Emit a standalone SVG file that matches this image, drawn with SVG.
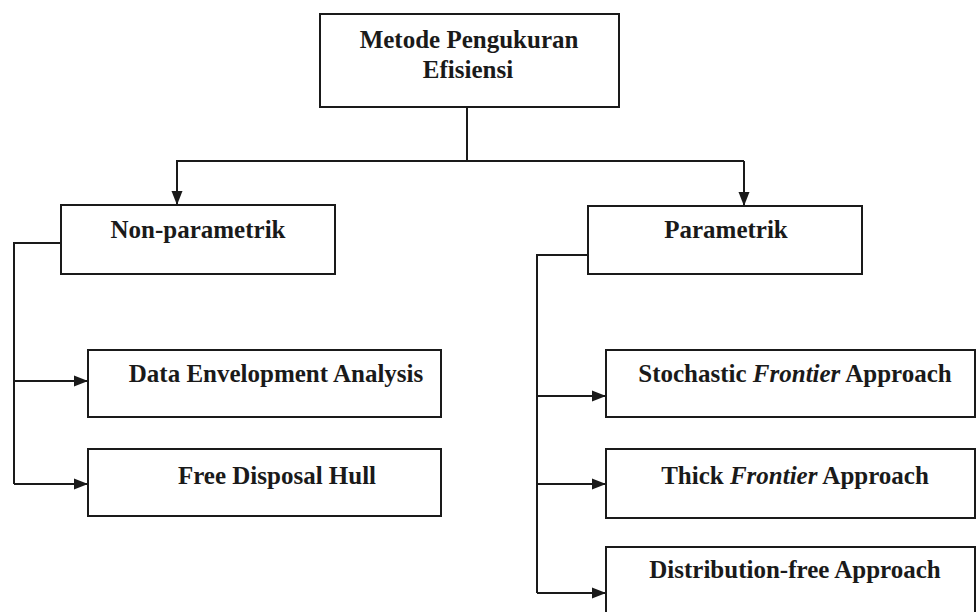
<svg xmlns="http://www.w3.org/2000/svg" width="976" height="612" viewBox="0 0 976 612">
<style>
.box{fill:#fff;stroke:#1a1a1a;stroke-width:2}
.t{font-family:'Liberation Serif','Times New Roman','DejaVu Serif',serif;font-weight:700;font-size:25px;fill:#1a1a1a;text-anchor:middle}
.c{fill:none;stroke:#1a1a1a;stroke-width:2}
</style>
<defs>
<marker id="ah" viewBox="0 0 14 12" refX="14" refY="6" markerWidth="14" markerHeight="12" markerUnits="userSpaceOnUse" orient="auto">
<path d="M0,0.5 L14,6 L0,11.5 Z" fill="#1a1a1a"/>
</marker>
</defs>
<rect width="976" height="612" fill="#fff"/>
<g id="connectors">
<path class="c" d="M467,107 V161 M176,161 H744"/>
<path class="c" d="M177,161 V205" marker-end="url(#ah)"/>
<path class="c" d="M744,161 V206" marker-end="url(#ah)"/>
<path class="c" d="M61,243 H14 V484"/>
<path class="c" d="M14,381 H88" marker-end="url(#ah)"/>
<path class="c" d="M14,484 H88" marker-end="url(#ah)"/>
<path class="c" d="M588,255 H537 V593"/>
<path class="c" d="M537,396 H606" marker-end="url(#ah)"/>
<path class="c" d="M537,484 H606" marker-end="url(#ah)"/>
<path class="c" d="M537,593 H606" marker-end="url(#ah)"/>
</g>
<g id="root">
<rect class="box" x="320" y="14" width="299" height="93"/>
<text class="t" x="469" y="48">Metode Pengukuran</text>
<text class="t" x="468" y="78">Efisiensi</text>
</g>
<g id="nonparametrik">
<rect class="box" x="61" y="205" width="274" height="69"/>
<text class="t" x="198" y="238">Non-parametrik</text>
</g>
<g id="parametrik">
<rect class="box" x="588" y="206" width="274" height="68"/>
<text class="t" x="726" y="238">Parametrik</text>
</g>
<g id="dea">
<rect class="box" x="88" y="350" width="353" height="67"/>
<text class="t" x="276" y="382">Data Envelopment Analysis</text>
</g>
<g id="fdh">
<rect class="box" x="88" y="449" width="353" height="67"/>
<text class="t" x="277" y="484">Free Disposal Hull</text>
</g>
<g id="sfa">
<rect class="box" x="606" y="350" width="369" height="67"/>
<text class="t" x="795" y="382">Stochastic <tspan font-style="italic">Frontier</tspan> Approach</text>
</g>
<g id="tfa">
<rect class="box" x="606" y="449" width="369" height="69"/>
<text class="t" x="795" y="484">Thick <tspan font-style="italic">Frontier</tspan> Approach</text>
</g>
<g id="dfa">
<rect class="box" x="606" y="547" width="369" height="80"/>
<text class="t" x="795" y="578">Distribution-free Approach</text>
</g>
</svg>
